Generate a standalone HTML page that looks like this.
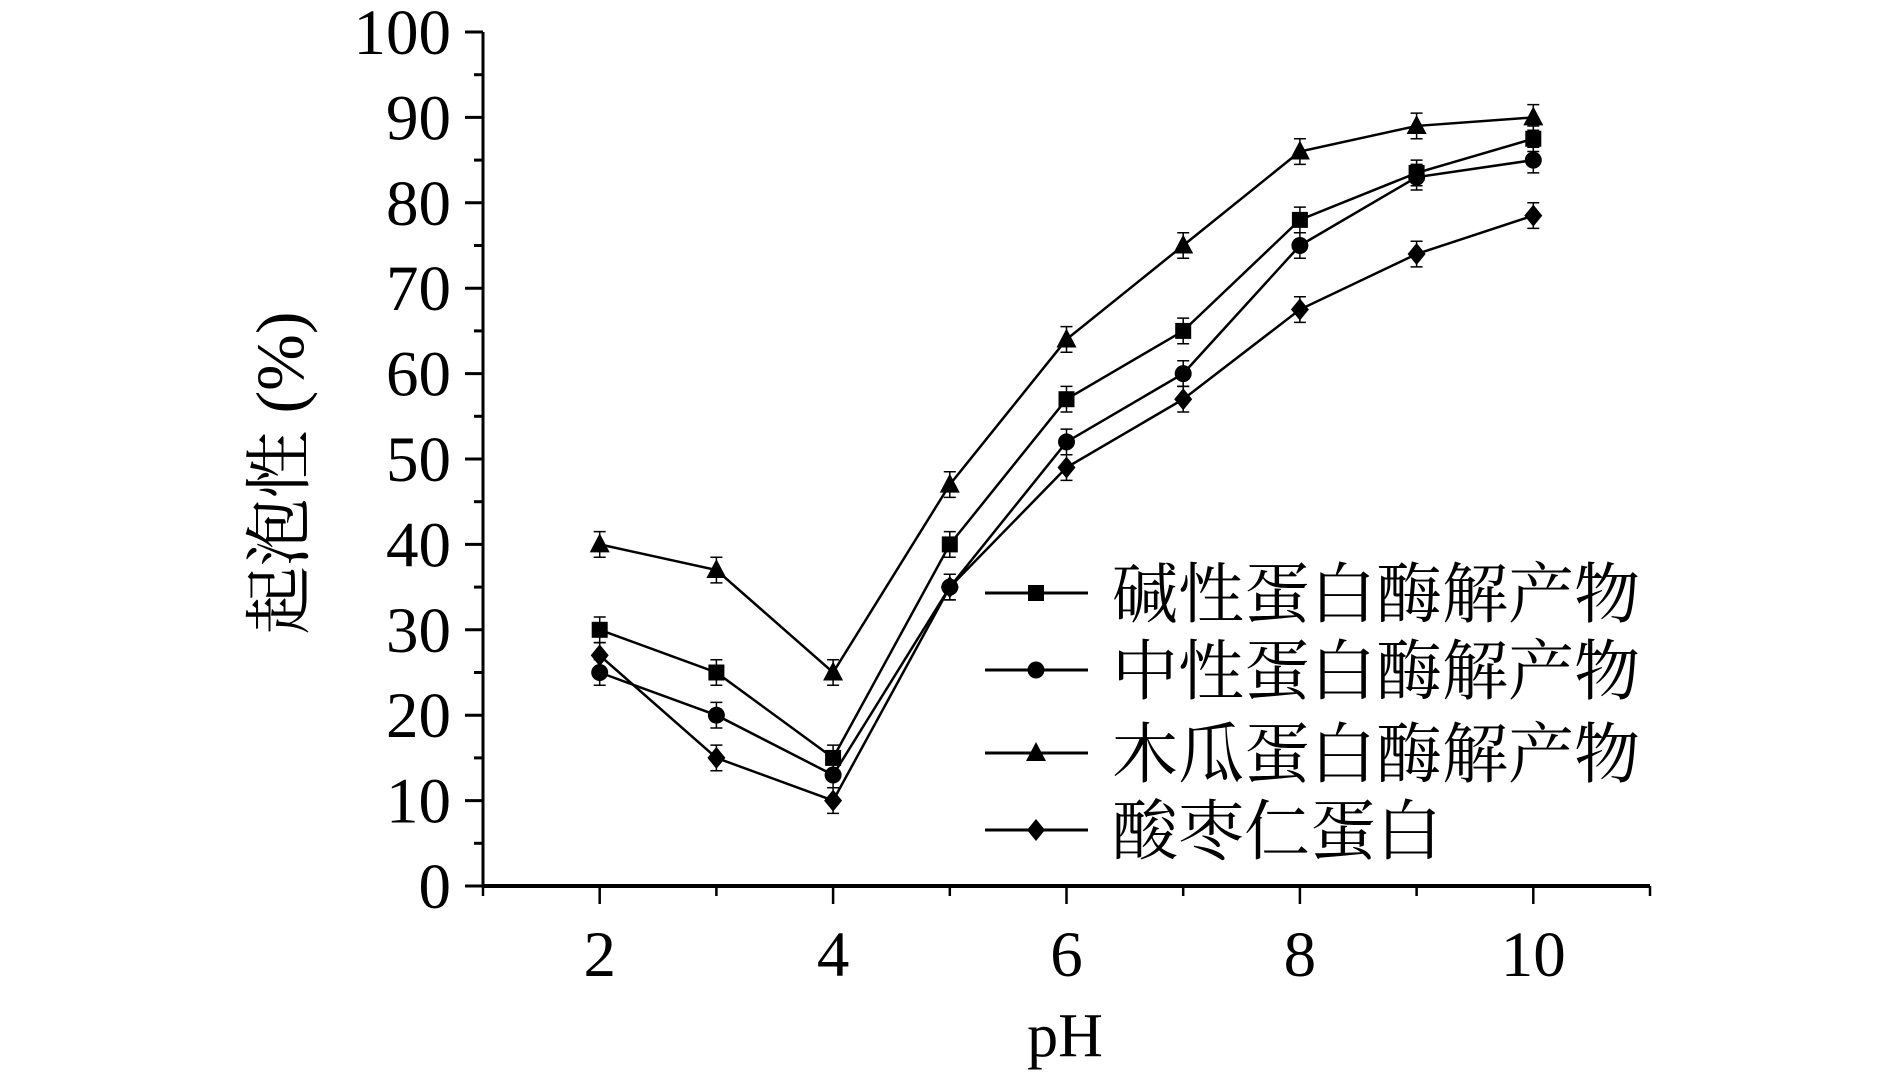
<!DOCTYPE html>
<html><head><meta charset="utf-8"><style>
html,body{margin:0;padding:0;background:#fff;}
svg{display:block;}
text{font-family:"Liberation Serif","Noto Serif CJK SC",serif;fill:#000;}
</style></head><body>
<svg id="chart" width="1890" height="1076" viewBox="0 0 1890 1076" xmlns="http://www.w3.org/2000/svg">
<g id="axes"></g>
<g id="series"></g>
<g id="legend"></g>
</svg>
<script>
const phValues = [2,3,4,5,6,7,8,9,10];
const alkaline = [30,25,15,40,57,65,78,83.5,87.5];
const neutral = [25,20,13,35,52,60,75,83,85];
const papain = [40,37,25,47,64,75,86,89,90];
const jujube = [27,15,10,35,49,57,67.5,74,78.5];
const errBar = [1.5,1.5,1.5,1.5,1.5,1.5,1.5,1.5,1.5];
const yTicks = [0,10,20,30,40,50,60,70,80,90,100];
const xTicks = [2,4,6,8,10];
const seriesNames = ["碱性蛋白酶解产物","中性蛋白酶解产物","木瓜蛋白酶解产物","酸枣仁蛋白"];

const NS="http://www.w3.org/2000/svg";
const X0=483, X1=1650, XMIN=1, XMAX=11;
const Y0=886, Y1=32, YMIN=0, YMAX=100;
function sx(v){return X0+(v-XMIN)/(XMAX-XMIN)*(X1-X0);}
function sy(v){return Y0-(v-YMIN)/(YMAX-YMIN)*(Y0-Y1);}
function mk(tag,attrs,parent){const e=document.createElementNS(NS,tag);for(const k in attrs)e.setAttribute(k,attrs[k]);parent.appendChild(e);return e;}

const axes=document.getElementById('axes');
let el=mk('line',{x1:X0,y1:Y1,x2:X0,y2:Y0,stroke:'#000','stroke-width':3},axes);


el=mk('line',{x1:X0-1,y1:Y0,x2:X1,y2:Y0,stroke:'#000','stroke-width':4},axes);


for(let v=YMIN; v<=YMAX; v+=5){
  const major=v%10===0;
  el=mk('line',{x1:X0-(major?18:9),y1:sy(v),x2:X0,y2:sy(v),stroke:'#000','stroke-width':3},axes);
  
  
}
yTicks.forEach(v=>{
  const t=mk('text',{x:X0-32,y:sy(v)+22,'text-anchor':'end','font-size':65},axes);
  t.textContent=v;
  
  
});
for(let v=XMIN; v<=XMAX; v+=1){
  const major=v%2===0;
  el=mk('line',{x1:sx(v),y1:Y0,x2:sx(v),y2:Y0+(major?18:10),stroke:'#000','stroke-width':2.5},axes);
  
  
}
xTicks.forEach(v=>{
  const t=mk('text',{x:sx(v),y:976,'text-anchor':'middle','font-size':65},axes);
  t.textContent=v;
  
  
});
let t=mk('text',{x:1065,y:1056,'text-anchor':'middle','font-size':62},axes);
t.textContent='pH';


t=mk('text',{x:0,y:0,'text-anchor':'middle','font-size':68,transform:'translate(303,473) rotate(-90)'},axes);
t.textContent='起泡性 (%)';



function marker(shape,cx,cy,parent){
  let m;
  if(shape==='square') m=mk('rect',{x:cx-8,y:cy-8,width:16,height:16,fill:'#000'},parent);
  else if(shape==='circle') m=mk('circle',{cx:cx,cy:cy,r:8.5,fill:'#000'},parent);
  else if(shape==='triangle') m=mk('polygon',{points:`${cx},${cy-11} ${cx-10},${cy+8} ${cx+10},${cy+8}`,fill:'#000'},parent);
  else m=mk('polygon',{points:`${cx},${cy-11} ${cx+9},${cy} ${cx},${cy+11} ${cx-9},${cy}`,fill:'#000'},parent);
  return m;
}
const seriesData=[alkaline,neutral,papain,jujube];
const shapes=['square','circle','triangle','diamond'];
const sg=document.getElementById('series');
seriesData.forEach((vals,i)=>{
  const g=mk('g',{},sg);
  
  
  const pts=vals.map((v,j)=>sx(phValues[j])+','+sy(v)).join(' ');
  const pl=mk('polyline',{points:pts,fill:'none',stroke:'#000','stroke-width':2.5},g);
  
  
  vals.forEach((v,j)=>{
    const cx=sx(phValues[j]), e=errBar[j];
    const eb=mk('path',{d:`M${cx},${sy(v+e)}V${sy(v-e)}M${cx-6},${sy(v+e)}H${cx+6}M${cx-6},${sy(v-e)}H${cx+6}`,stroke:'#000','stroke-width':1.5,fill:'none'},g);
    
    
    const m=marker(shapes[i],cx,sy(v),g);
    
    
  });
});
const lg=document.getElementById('legend');
const legY=[593,670,753,830];
seriesNames.forEach((n,i)=>{
  const g=mk('g',{},lg);
  
  
  const ln=mk('line',{x1:985,y1:legY[i],x2:1088,y2:legY[i],stroke:'#000','stroke-width':3},g);
  
  
  const m=marker(shapes[i],1036,legY[i],g);
  
  
  const tx=mk('text',{x:1112,y:legY[i]+24,'font-size':66},g);
  tx.textContent=n;
  
  
});
</script>
</body></html>
